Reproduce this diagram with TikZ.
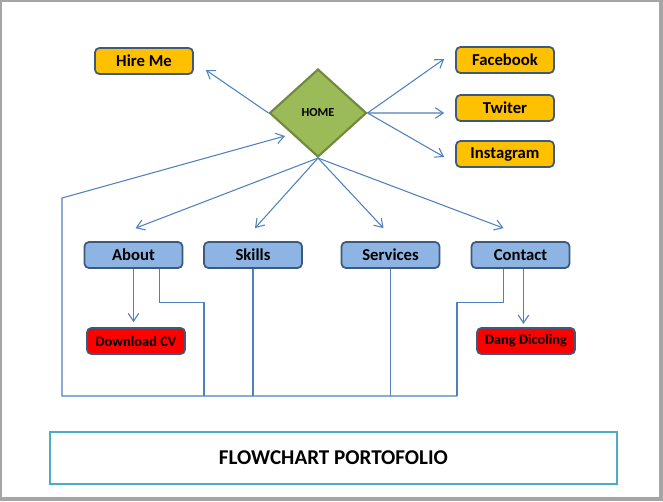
\documentclass[tikz,border=0pt]{standalone}
\usepackage{fontspec}
\setmainfont{Carlito}
\usetikzlibrary{shapes.geometric,arrows.meta}
\definecolor{yy}{RGB}{255,192,0}
\definecolor{bb}{RGB}{141,180,226}
\definecolor{rr}{RGB}{255,0,0}
\definecolor{gg}{RGB}{155,187,89}
\definecolor{gd}{RGB}{113,137,63}
\definecolor{ln}{RGB}{79,129,189}
\definecolor{bd}{RGB}{60,90,125}
\definecolor{tt}{RGB}{75,172,198}
\definecolor{fr}{RGB}{165,165,165}
\def\boxw{1.96cm}
\def\boxh{0.52cm}
\tikzset{
	menu/.style={draw=bd,line width=1pt,rounded corners=2.5pt,minimum width=\boxw,minimum height=\boxh,inner sep=0pt,font=\fontsize{9.5}{11}\selectfont\bfseries},
	social/.style={menu,fill=yy},
	page/.style={menu,fill=bb},
	sub/.style={menu,fill=rr,font=\fontsize{8.2}{10}\selectfont\bfseries},
	link/.style={draw=ln,line width=0.6pt}
}

\begin{document}
\begin{tikzpicture}[x=0.02cm,y=-0.02cm,>={Straight Barb[length=4.5pt,width=6pt]}]
\useasboundingbox (0,0) rectangle (663,501);
\fill[fr] (0,0) rectangle (663,501);
\fill[white] (2,2) rectangle (659,497);

\node[social] (hire) at (144,61) {Hire Me};
\node[social] (fb) at (505,60) {Facebook};
\node[social] (tw) at (505,108) {Twiter};
\node[social] (ig) at (505,154) {Instagram};
\node[diamond,aspect=1.1,draw=gd,line width=1.2pt,fill=gg,minimum width=1.94cm,minimum height=1.76cm,inner sep=0pt,font=\fontsize{7}{8}\selectfont\bfseries] (home) at (318,113) {HOME};
\node[page] (about) at (133.5,255) {About};
\node[page] (skills) at (253,255) {Skills};
\node[page] (services) at (390.5,255) {Services};
\node[page] (contact) at (520.5,255) {Contact};
\node[sub] (dlcv) at (136,341) {Download CV};
\node[sub] (dang) at (526,341) {Dang Dicoling};
\node[draw=tt,line width=1.2pt,minimum width=11.34cm,minimum height=1.04cm,font=\fontsize{12}{14}\selectfont\bfseries] (title) at (333.5,458) {FLOWCHART PORTOFOLIO};

\coordinate (busl) at (62,396);
\coordinate (busr) at (457,396);

\draw[link,->] (home.west) -- ([xshift=0.24cm,yshift=-0.18cm]hire.east);
\draw[link,->] (home.east) -- ([xshift=-0.22cm,yshift=0.02cm]fb.west);
\draw[link,->] (home.east) -- ([xshift=-0.22cm,yshift=-0.1cm]tw.west);
\draw[link,->] (home.east) -- ([xshift=-0.22cm,yshift=-0.06cm]ig.west);
\draw[link,->] (home.south) -- ([xshift=0.04cm,yshift=0.26cm]about.north);
\draw[link,->] (home.south) -- ([xshift=0.04cm,yshift=0.26cm]skills.north);
\draw[link,->] (home.south) -- ([xshift=-0.14cm,yshift=0.26cm]services.north);
\draw[link,->] (home.south) -- ([xshift=-0.34cm,yshift=0.26cm]contact.north);

\draw[link,->,shorten >=0.1cm] (about.south) -- (about.south |- dlcv.north);
\draw[link,->] ([xshift=0.06cm]contact.south) -- ++(0,55);

\draw[link] ([xshift=0.52cm]about.south) -- ++(0,34) -| (204,396);
\draw[link] (skills.south) -- (skills.south |- busl);
\draw[link] (services.south) -- (services.south |- busl);
\draw[link] ([xshift=-0.34cm]contact.south) -- ++(0,34) -| (busr);
\draw[link,->] (busr) -- (busl) -- (62,198) -- ([xshift=-0.66cm,yshift=-0.46cm]home.center);
\end{tikzpicture}
\end{document}
